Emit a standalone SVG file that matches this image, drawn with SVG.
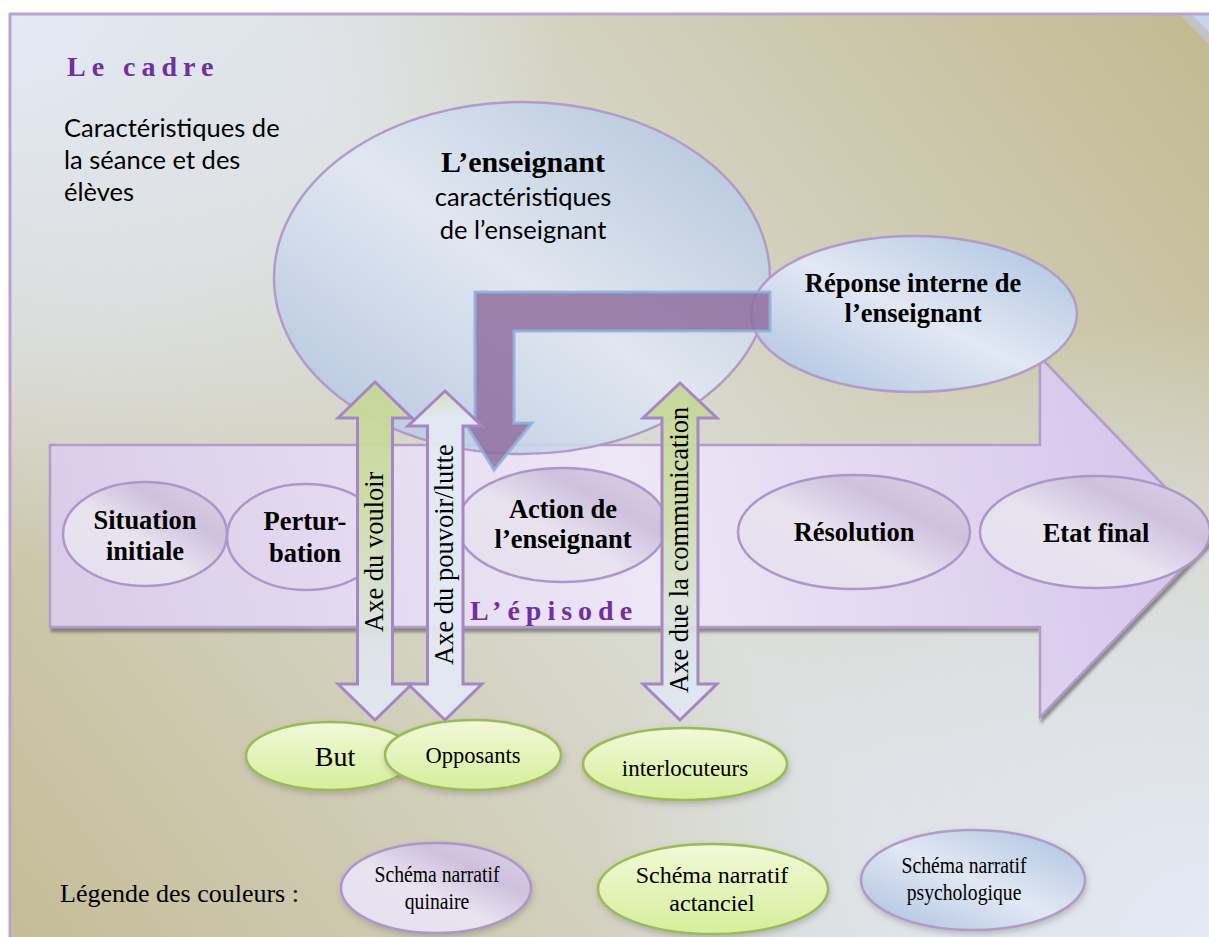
<svg xmlns="http://www.w3.org/2000/svg" width="1209" height="937" viewBox="0 0 1209 937">
<defs>
  <linearGradient id="bgLin" gradientUnits="userSpaceOnUse" x1="1209" y1="0" x2="0" y2="937">
    <stop offset="0" stop-color="#c2b98f"/>
    <stop offset="0.5" stop-color="#dbddd7"/>
    <stop offset="1" stop-color="#c5bc96"/>
  </linearGradient>
  <radialGradient id="bgTL" gradientUnits="userSpaceOnUse" cx="0" cy="0" r="560">
    <stop offset="0" stop-color="#e4eaf6" stop-opacity="1"/>
    <stop offset="0.6" stop-color="#e2e8f3" stop-opacity="0.6"/>
    <stop offset="1" stop-color="#e2e8f3" stop-opacity="0"/>
  </radialGradient>
  <radialGradient id="bgBR" gradientUnits="userSpaceOnUse" cx="1209" cy="937" r="620">
    <stop offset="0" stop-color="#e4e9f5" stop-opacity="1"/>
    <stop offset="0.6" stop-color="#e2e7f2" stop-opacity="0.6"/>
    <stop offset="1" stop-color="#e2e7f2" stop-opacity="0"/>
  </radialGradient>
  <linearGradient id="bandGrad" gradientUnits="userSpaceOnUse" x1="50" y1="628" x2="1213" y2="357">
    <stop offset="0" stop-color="#dacbe9"/>
    <stop offset="0.5" stop-color="#eee7f6"/>
    <stop offset="1" stop-color="#d3c1ea"/>
  </linearGradient>
  <linearGradient id="quiGrad" x1="0" y1="1" x2="1" y2="0">
    <stop offset="0" stop-color="#e6dfee"/>
    <stop offset="0.45" stop-color="#e9e3f0"/>
    <stop offset="0.7" stop-color="#cfc1de"/>
    <stop offset="1" stop-color="#ddd2e8"/>
  </linearGradient>
  <linearGradient id="blueGrad" x1="0" y1="1" x2="1" y2="0">
    <stop offset="0" stop-color="#a9bfde"/>
    <stop offset="0.5" stop-color="#e2e8f4"/>
    <stop offset="1" stop-color="#a9c0de"/>
  </linearGradient>
  <linearGradient id="greenGrad" x1="0" y1="0" x2="0" y2="1">
    <stop offset="0" stop-color="#f2f9d8"/>
    <stop offset="1" stop-color="#d6ee9c"/>
  </linearGradient>
  <linearGradient id="axeGreen" gradientUnits="userSpaceOnUse" x1="0" y1="382" x2="0" y2="720">
    <stop offset="0" stop-color="#c6d797"/>
    <stop offset="0.35" stop-color="#cddca6"/>
    <stop offset="0.75" stop-color="#dde4e6"/>
    <stop offset="1" stop-color="#e2e8f4"/>
  </linearGradient>
  <linearGradient id="axeLight" gradientUnits="userSpaceOnUse" x1="0" y1="391" x2="0" y2="720">
    <stop offset="0" stop-color="#d6e2b8"/>
    <stop offset="0.08" stop-color="#e3e9f4"/>
    <stop offset="1" stop-color="#e3e8f5"/>
  </linearGradient>
  <filter id="shadow" x="-10%" y="-10%" width="130%" height="130%">
    <feDropShadow dx="2" dy="4" stdDeviation="1.5" flood-color="#4a4a4a" flood-opacity="0.55"/>
  </filter>
  <filter id="soft" x="-20%" y="-20%" width="140%" height="150%">
    <feDropShadow dx="1" dy="3" stdDeviation="3" flood-color="#666" flood-opacity="0.35"/>
  </filter>
  <style>
    .serif { font-family: "Liberation Serif", "Times New Roman", serif; fill: #000; }
    .bold { font-weight: bold; }
    .sans { font-family: Lato, "Noto Sans", sans-serif; fill: #000; }
    .title { font-family: "Liberation Serif", "Times New Roman", serif; font-weight: bold; fill: #7030a0; font-size: 28px; letter-spacing: 6px; }
    .quin { fill: url(#quiGrad); stroke: #ad97c9; stroke-width: 2.5; }
    .blue { fill: url(#blueGrad); stroke: #b39bc9; stroke-width: 2.5; }
    .green { fill: url(#greenGrad); stroke: #9bbb59; stroke-width: 2.5; }
    .axe { stroke: #a686c5; stroke-width: 3; stroke-linejoin: miter; }
    .lbl { font-size: 26.5px; text-anchor: middle; }
    .axelbl { font-size: 26.5px; }
    .leg { font-size: 24px; text-anchor: middle; }
  </style>
</defs>

<!-- background -->
<rect x="0" y="0" width="1209" height="937" fill="#ffffff"/>
<g id="page">
  <rect x="10" y="14" width="1215" height="940" fill="url(#bgLin)"/>
  <rect x="10" y="14" width="1215" height="940" fill="url(#bgTL)"/>
  <rect x="10" y="14" width="1215" height="940" fill="url(#bgBR)"/>
  <polygon points="1180,15 1209,15 1209,44" fill="#c0c4c4"/>
  <polygon points="1192,15 1209,15 1209,32" fill="#c6d4ec"/>
  <rect x="10" y="14" width="1215" height="940" fill="none" stroke="#b9a3d0" stroke-width="3"/>
</g>

<g id="cadre">
  <text class="title" x="67" y="76">Le cadre</text>
  <text class="sans" font-size="25.5" x="64"><tspan x="64" y="137">Caractéristiques de</tspan><tspan x="64" y="169">la séance et des</tspan><tspan x="64" y="201">élèves</tspan></text>
</g>

<!-- big episode arrow -->
<g id="episode">
  <polygon points="50,445 1040,445 1040,357 1213,537 1040,717 1040,627 50,627" fill="url(#bandGrad)" stroke="#b39cc9" stroke-width="2.5" filter="url(#shadow)"/>
</g>

<g id="situation-initiale">
  <ellipse class="quin" cx="145" cy="534" rx="82" ry="52"/>
  <text class="serif bold lbl" x="145"><tspan x="145" y="529">Situation</tspan><tspan x="145" y="560">initiale</tspan></text>
</g>
<g id="perturbation">
  <ellipse cx="306" cy="537" rx="79" ry="53" fill="none" stroke="#ad97c9" stroke-width="2.5"/>
  <text class="serif bold lbl" x="305"><tspan x="305" y="530">Pertur-</tspan><tspan x="305" y="562">bation</tspan></text>
</g>
<g id="action">
  <ellipse class="quin" cx="562" cy="525" rx="105" ry="57"/>
  <text class="serif bold lbl" x="563"><tspan x="563" y="518">Action de</tspan><tspan x="563" y="548">l’enseignant</tspan></text>
</g>
<g id="resolution">
  <ellipse class="quin" cx="854" cy="532" rx="116" ry="57"/>
  <text class="serif bold lbl" x="854" y="541">Résolution</text>
</g>
<g id="etat-final">
  <ellipse class="quin" cx="1095" cy="532" rx="115" ry="56"/>
  <text class="serif bold lbl" x="1096" y="542">Etat final</text>
</g>

<g id="enseignant">
  <ellipse class="blue" cx="522" cy="278" rx="248" ry="176" fill-opacity="0.88"/>
  <text class="serif bold" font-size="30" text-anchor="middle" x="523" y="172">L’enseignant</text>
  <text class="sans" font-size="25.5" text-anchor="middle" x="523"><tspan x="523" y="206">caractéristiques</tspan><tspan x="523" y="239">de l’enseignant</tspan></text>
</g>

<g id="reponse">
  <ellipse class="blue" cx="914" cy="314" rx="163" ry="78"/>
  <text class="serif bold lbl" x="913"><tspan x="913" y="292">Réponse interne de</tspan><tspan x="913" y="322">l’enseignant</tspan></text>
</g>

<g id="connectors">
  <polygon points="475,292 770,292 770,331 514,331 514,423 532,423 494,470 465,423 475,423" fill="#8d6a9d" fill-opacity="0.82" stroke="#8fb1dc" stroke-width="3" stroke-opacity="0.9"/>
  <polygon class="axe" fill="url(#axeGreen)" fill-opacity="0.95" points="375,382 412,418 392.5,418 392.5,684 412,684 375,720 338,684 357.5,684 357.5,418 338,418"/>
  <polygon class="axe" fill="url(#axeLight)" fill-opacity="0.95" points="445,391 482,426 463,426 463,684 482,684 445,720 408,684 427.5,684 427.5,426 408,426"/>
  <polygon class="axe" fill="url(#axeGreen)" fill-opacity="0.95" points="680,383 717,418 698,418 698,684 717,684 680,720 643,684 662,684 662,418 643,418"/>
  <text class="serif axelbl" transform="translate(375,632) rotate(-90)" x="0" y="8">Axe du vouloir</text>
  <text class="serif axelbl" transform="translate(445,665) rotate(-90)" x="0" y="8">Axe du pouvoir/lutte</text>
  <text class="serif axelbl" transform="translate(680,693) rotate(-90)" x="0" y="8">Axe due la communication</text>
</g>

<g id="episode-label">
  <text class="title" x="470" y="620">L’épisode</text>
</g>

<g id="but">
  <ellipse class="green" cx="330" cy="756" rx="84" ry="34" filter="url(#soft)"/>
  <text class="serif" font-size="28" text-anchor="middle" x="335" y="766">But</text>
</g>
<g id="opposants">
  <ellipse class="green" cx="473" cy="755" rx="88" ry="35" filter="url(#soft)"/>
  <text class="serif" font-size="22.5" text-anchor="middle" x="473" y="763">Opposants</text>
</g>
<g id="interlocuteurs">
  <ellipse class="green" cx="685" cy="764" rx="102" ry="36" filter="url(#soft)"/>
  <text class="serif" font-size="23" text-anchor="middle" x="685" y="776">interlocuteurs</text>
</g>

<g id="legende">
  <text class="serif" font-size="26" x="60" y="902">Légende des couleurs :</text>
</g>
<g id="leg-quinaire">
  <ellipse class="quin" cx="436" cy="888" rx="95" ry="45" filter="url(#soft)"/>
  <text class="serif leg" transform="translate(437,0) scale(0.82,1)"><tspan x="0" y="882">Schéma narratif</tspan><tspan x="0" y="909">quinaire</tspan></text>
</g>
<g id="leg-actanciel">
  <ellipse class="green" cx="713" cy="889" rx="115" ry="45" filter="url(#soft)"/>
  <text class="serif leg" x="712"><tspan x="712" y="883">Schéma narratif</tspan><tspan x="712" y="911">actanciel</tspan></text>
</g>
<g id="leg-psycho">
  <ellipse class="blue" cx="973" cy="880" rx="112" ry="50" filter="url(#soft)"/>
  <text class="serif leg" transform="translate(964,0) scale(0.82,1)"><tspan x="0" y="873">Schéma narratif</tspan><tspan x="0" y="900">psychologique</tspan></text>
</g>
</svg>
